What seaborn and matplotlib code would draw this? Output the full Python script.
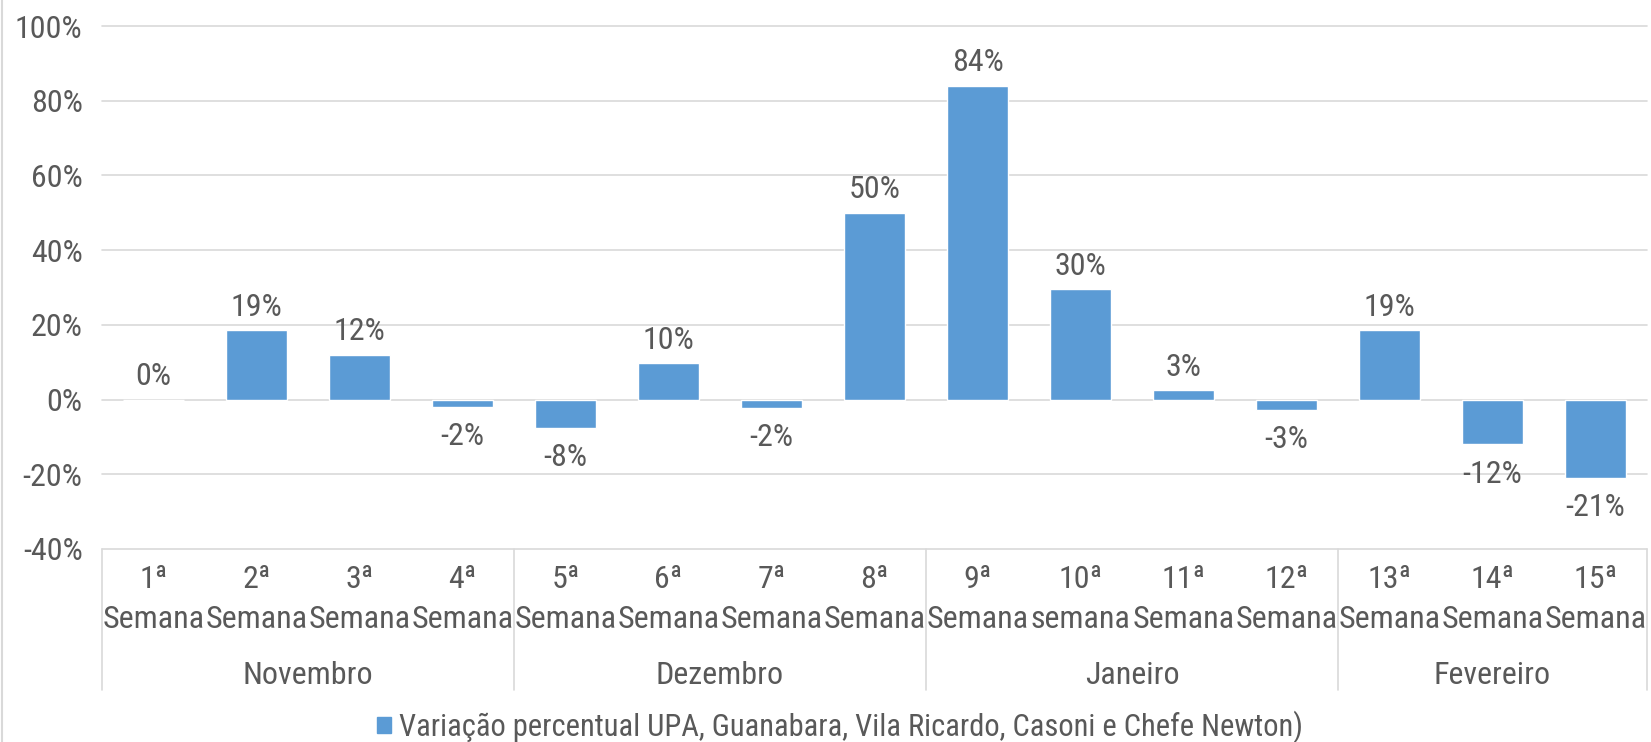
import matplotlib
matplotlib.use("Agg")
import matplotlib.pyplot as plt
import seaborn as sns
import pandas as pd
from matplotlib.lines import Line2D
from matplotlib.patches import Patch

# ---- data ----
weeks = ["1ª\nSemana", "2ª\nSemana", "3ª\nSemana", "4ª\nSemana",
         "5ª\nSemana", "6ª\nSemana", "7ª\nSemana", "8ª\nSemana",
         "9ª\nSemana", "10ª\nsemana", "11ª\nSemana", "12ª\nSemana",
         "13ª\nSemana", "14ª\nSemana", "15ª\nSemana"]
values = [0, 18.5, 12, -2, -7.6, 9.8, -2.3, 50, 84, 29.5, 2.5, -2.7, 18.6, -12, -21]
value_labels = ["0%", "19%", "12%", "-2%", "-8%", "10%", "-2%", "50%", "84%",
                "30%", "3%", "-3%", "19%", "-12%", "-21%"]
months = ["Novembro", "Dezembro", "Janeiro", "Fevereiro"]
month_sizes = [4, 4, 4, 3]
yticks = [-40, -20, 0, 20, 40, 60, 80, 100]
series_name = "Variação percentual UPA, Guanabara, Vila Ricardo, Casoni e Chefe Newton)"

BAR = "#5B9BD5"
TXT = "#595959"
GRID = "#D9D9D9"
FS = 23

sns.set_style("white")
plt.rcParams['font.family'] = ['Roboto Condensed', 'DejaVu Sans']

W, H = 1651, 742
fig = plt.figure(figsize=(W / 100, H / 100), dpi=100)
L, R, T, B = 102, 1647, 26, 549
ax = fig.add_axes([L / W, 1 - B / H, (R - L) / W, (B - T) / H])

df = pd.DataFrame({"week": weeks, "value": values})
sns.barplot(data=df, x="week", y="value", color=BAR, width=0.59, ax=ax,
            saturation=1, zorder=3)

ax.set_xlim(-0.5, len(weeks) - 0.5)
ax.set_ylim(-40, 100)
ax.set_yticks(yticks)
ax.set_yticklabels([f"{t}%" for t in yticks], fontsize=FS, color=TXT)
ax.tick_params(axis='y', length=0, pad=14)
ax.set_xticks([])
ax.set_xlabel("")
ax.set_ylabel("")
for s in ax.spines.values():
    s.set_visible(False)
for t in yticks:
    ax.axhline(t, color=GRID, lw=1.2, zorder=1, clip_on=False)

# data labels
for i, (v, lab) in enumerate(zip(values, value_labels)):
    if v >= 0:
        ax.annotate(lab, (i, v), xytext=(0, 6), textcoords="offset points",
                    ha="center", va="bottom", fontsize=FS, color=TXT)
    else:
        ax.annotate(lab, (i, v), xytext=(0, -11), textcoords="offset points",
                    ha="center", va="top", fontsize=FS, color=TXT)

# category axis (multi-level)
def ay(py):
    return (B - py) / (B - T)

xt = ax.get_xaxis_transform()
for i, w in enumerate(weeks):
    top, bot = w.split("\n")
    ax.text(i, ay(580), top, transform=xt, ha="center", va="center",
            fontsize=FS, color=TXT, clip_on=False)
    ax.text(i, ay(619), bot, transform=xt, ha="center", va="center",
            fontsize=FS, color=TXT, clip_on=False)

start = 0
bounds = [-0.5]
for m, n in zip(months, month_sizes):
    center = start + (n - 1) / 2
    ax.text(center, ay(675), m, transform=xt, ha="center", va="center",
            fontsize=FS, color=TXT, clip_on=False)
    start += n
    bounds.append(start - 0.5)
for b in bounds:
    ax.add_line(Line2D([b, b], [0, ay(690)], transform=xt, color=GRID,
                       lw=1.2, clip_on=False))

# left chart border
fig.add_artist(Line2D([1.5 / W, 1.5 / W], [0, 1], transform=fig.transFigure,
                      color=GRID, lw=1.5))

# legend
handle = Patch(facecolor=BAR, edgecolor=BAR)
fig.legend([handle], [series_name], loc="center",
           bbox_to_anchor=(840 / W, 1 - 727 / H), frameon=False,
           fontsize=22, labelcolor=TXT, handlelength=0.45, handleheight=0.45,
           handletextpad=0.25, borderpad=0, borderaxespad=0)

fig.savefig("out.png", dpi=100, facecolor="white")
